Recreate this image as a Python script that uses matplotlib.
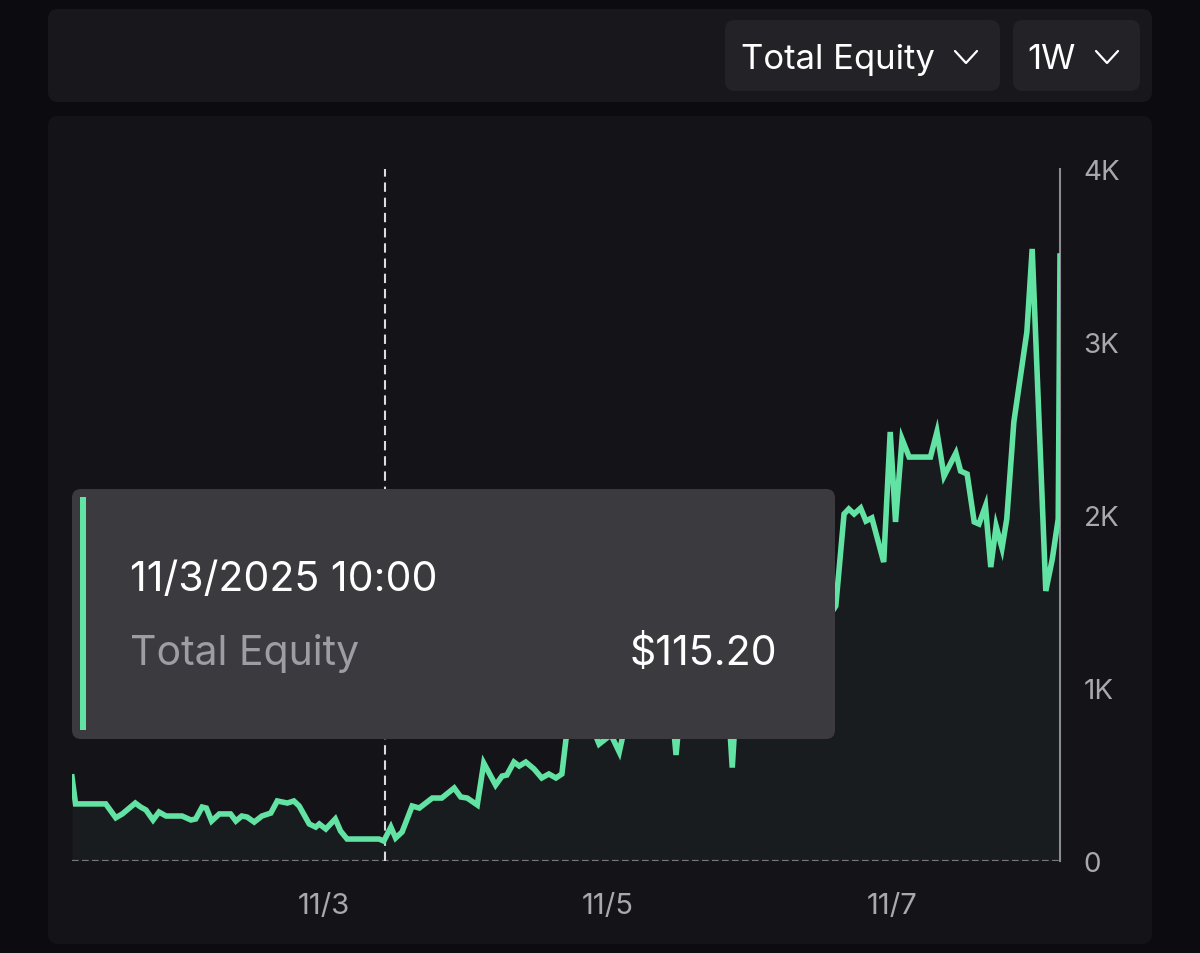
import matplotlib.pyplot as plt
from matplotlib.patches import FancyBboxPatch

# --- data: hours since 11/1 00:00 and total equity ($) ---
hours = [5.4, 6.0, 11.1, 12.8, 13.9, 16.1, 17.0, 17.9, 19.1, 20.1, 21.3, 24.0,
         25.5, 26.3, 27.4, 28.1, 29.0, 30.3, 32.2, 33.1, 34.1, 35.0, 36.2, 37.5,
         39.0, 40.1, 41.8, 42.9, 43.8, 45.5, 46.6, 47.2, 48.3, 49.9, 50.8, 51.9,
         57.3, 58.1, 59.3, 60.1, 61.2, 62.9, 64.1, 66.3, 67.9, 70.0, 71.1, 72.2,
         73.9, 75.0, 77.0, 78.1, 78.9, 80.1, 81.0, 82.1, 83.5, 84.8, 86.0, 87.2,
         88.2, 88.9, 89.7, 91.1, 92.8, 94.5, 96.5, 97.9, 99.0, 102.1, 104.6, 106.6,
         107.5, 108.5, 111.4, 114.4, 116.1, 117.0, 118.0, 121.5, 125.7, 130.0, 132.7,
         134.5, 135.9, 136.7, 137.6, 138.7, 139.6, 140.6, 142.6, 143.7, 144.6, 145.7,
         146.9, 150.5, 151.6, 152.8, 154.8, 155.6, 156.7, 157.9, 158.7, 159.8, 160.7,
         161.6, 162.6, 163.4, 164.6, 166.8, 167.7, 170.0, 171.1, 172.1, 172.4]
equity = [486, 330, 330, 250, 272, 335, 312, 295, 237, 283, 260, 260,
          237, 243, 312, 306, 231, 272, 272, 231, 260, 254, 225, 260,
          277, 347, 335, 347, 318, 214, 196, 214, 185, 243, 173, 127,
          127, 115.2, 196, 133, 168, 318, 306, 364, 364, 422, 370, 364,
          324, 566, 439, 491, 497, 572, 549, 572, 532, 480, 503, 480,
          503, 705, 780, 880, 820, 676, 730, 630, 800, 860, 920, 960,
          613, 980, 1020, 1080, 1040, 540, 1100, 1180, 1250, 1320, 1380,
          1474, 2006, 2035, 2006, 2040, 1965, 1983, 1728, 2480, 1960, 2439,
          2335, 2335, 2480, 2225, 2358, 2254, 2237, 1960, 1948, 2052, 1699,
          1936, 1809, 1977, 2538, 3058, 3538, 1561, 1746, 1977, 3497]

x_ticks = [48, 96, 144]
x_tick_labels = ["11/3", "11/5", "11/7"]
y_ticks = [0, 1000, 2000, 3000, 4000]
y_tick_labels = ["0", "1K", "2K", "3K", "4K"]

hover_hour = 58.3
hover_label = "11/3/2025 10:00"
hover_value = "$115.20"

GREEN = "#63e3a3"
W, H = 1200, 954

plt.rcParams['font.family'] = ['Inter', 'DejaVu Sans']
fig = plt.figure(figsize=(W / 100, H / 100), dpi=100)
fig.patch.set_facecolor("#0b0b10")

# background layer in pixel coordinates
bg = fig.add_axes([0, 0, 1, 1], zorder=0)
bg.set_xlim(0, W)
bg.set_ylim(H, 0)
bg.axis("off")


def panel(axis, x0, y0, x1, y1, color, r=10):
    axis.add_patch(FancyBboxPatch((x0 + r, y0 + r), x1 - x0 - 2 * r, y1 - y0 - 2 * r,
                                  boxstyle=f"round,pad={r}", fc=color, ec="none"))


panel(bg, 48, 10, 1152, 103, "#17171c")
panel(bg, 725, 21, 1000, 92, "#222227")
panel(bg, 1013, 21, 1140, 92, "#222227")
panel(bg, 48, 117, 1152, 945, "#131318")

bg.text(741, 69, "Total Equity", color="white", fontsize=25, va="baseline", ha="left")
bg.text(1027, 69, "1W", color="white", fontsize=25, va="baseline", ha="left")
for cx in (966, 1107):
    bg.plot([cx - 11, cx, cx + 11], [52, 64, 52], color="white", lw=1.6,
            solid_capstyle="round", solid_joinstyle="round")

# --- chart ---
ax = fig.add_axes([72 / W, (H - 862) / H, (1060 - 72) / W, (862 - 170) / H], zorder=1)
ax.set_facecolor("none")
ax.fill_between(hours, equity, 0, color="#181c1f", lw=0, zorder=1)
ax.plot(hours, equity, color=GREEN, lw=4.0, solid_joinstyle="miter", zorder=3)
ax.axhline(0, color="#77777c", lw=1.6, ls=(0, (3, 1.5)), zorder=2)
ax.axvline(hover_hour, color="#dcdce0", lw=1.5, ls=(0, (4.5, 2.8)), zorder=2)
ax.set_xlim(hours[0], hours[-1])
ax.set_ylim(0, 4000)

for s in ("left", "top", "bottom"):
    ax.spines[s].set_visible(False)
ax.spines["right"].set_color("#8a8a8f")
ax.spines["right"].set_linewidth(1.5)

ax.yaxis.tick_right()
ax.set_yticks(y_ticks, y_tick_labels)
ax.set_xticks(x_ticks, x_tick_labels)
ax.tick_params(axis="y", length=0, pad=17, labelsize=20, labelcolor="#a8a8ad")
ax.tick_params(axis="x", length=0, pad=22, labelsize=21, labelcolor="#a8a8ad")

# --- tooltip ---
top = fig.add_axes([0, 0, 1, 1], zorder=3)
top.set_xlim(0, W)
top.set_ylim(H, 0)
top.axis("off")
panel(top, 72, 490, 835, 740, "#3a3a3f", r=9)
top.add_patch(plt.Rectangle((80, 498), 6, 233, fc=GREEN, ec="none"))
top.text(130, 591, hover_label, color="white", fontsize=29.5, va="baseline", ha="left")
top.text(130, 665, "Total Equity", color="#9d9da3", fontsize=29.5, va="baseline", ha="left")
top.text(777, 665, hover_value, color="white", fontsize=29.5, va="baseline", ha="right")

fig.savefig("out.png", dpi=100, facecolor=fig.get_facecolor())
